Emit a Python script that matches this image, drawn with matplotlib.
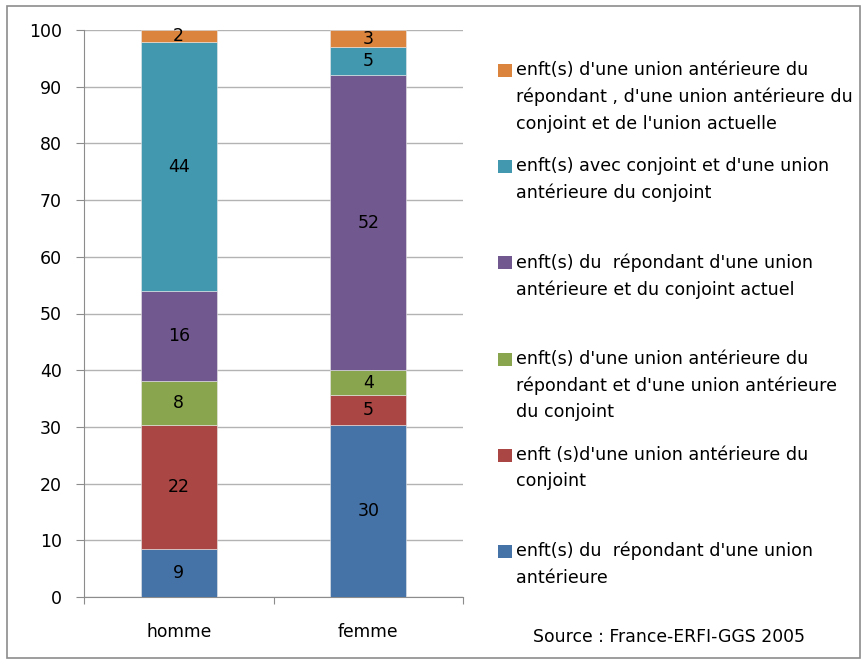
import numpy as np
import matplotlib
matplotlib.use('Agg')
import matplotlib.pyplot as plt
from matplotlib.patches import Rectangle

categories = ['homme', 'femme']
series_names = [
    "enft(s) du  répondant d'une union\nantérieure",
    "enft (s)d'une union antérieure du\nconjoint",
    "enft(s) d'une union antérieure du\nrépondant et d'une union antérieure\ndu conjoint",
    "enft(s) du  répondant d'une union\nantérieure et du conjoint actuel",
    "enft(s) avec conjoint et d'une union\nantérieure du conjoint",
    "enft(s) d'une union antérieure du\nrépondant , d'une union antérieure du\nconjoint et de l'union actuelle",
]
homme = [8.5, 21.8, 7.8, 15.8, 44.0, 2.1]
femme = [30.4, 5.2, 4.4, 52.0, 5.0, 3.0]
labels_homme = ['9', '22', '8', '16', '44', '2']
labels_femme = ['30', '5', '4', '52', '5', '3']
colors = ['#4572A7', '#AA4643', '#89A54E', '#71588F', '#4198AF', '#DB843D']

plt.rcParams['font.family'] = ['DejaVu Sans']

W, H = 867, 664
fig = plt.figure(figsize=(W / 100, H / 100), dpi=100)
ax = fig.add_axes([84 / W, 1 - 597 / H, (463 - 84) / W, (597 - 30) / H])

# outer chart border
fig.patches.append(Rectangle((7 / W, 6 / H), (860 - 7) / W, (658 - 6) / H,
                             transform=fig.transFigure, fill=False,
                             edgecolor='#8c8c8c', linewidth=1.2))

x = np.arange(len(categories))
data = np.array([homme, femme]).T
labs = np.array([labels_homme, labels_femme]).T
bottom = np.zeros(len(categories))
for i in range(len(series_names)):
    ax.bar(x, data[i], 0.4, bottom=bottom, color=colors[i],
           edgecolor='#e8e8e8', linewidth=0.4, zorder=3)
    for j in range(len(categories)):
        ax.text(x[j], bottom[j] + data[i][j] / 2, labs[i][j], ha='center',
                va='center', fontsize=12.5, zorder=4)
    bottom += data[i]

ax.set_xlim(-0.5, 1.5)
ax.set_ylim(0, 100)
ax.set_yticks(np.arange(0, 101, 10))
ax.set_xticks([-0.5, 0.5, 1.5], minor=False)
ax.set_xticklabels([])
ax.set_xticks(x, minor=True)
ax.set_xticklabels(categories, minor=True, fontsize=12.3)
ax.tick_params(axis='x', which='minor', length=0, pad=19)
ax.tick_params(axis='x', which='major', length=5, color='#8c8c8c', direction='out')
ax.tick_params(axis='y', length=6, color='#8c8c8c', labelsize=12.5, pad=10)
ax.yaxis.grid(True, color='#b3b3b3', linewidth=1, zorder=0)
for s in ['top', 'right']:
    ax.spines[s].set_visible(False)
for s in ['left', 'bottom']:
    ax.spines[s].set_color('#8c8c8c')

# legend drawn by hand, top entry first
for k in range(len(series_names)):
    i = len(series_names) - 1 - k
    yc = 70.5 + k * 96.2
    fig.patches.append(Rectangle((498 / W, 1 - (yc + 6.5) / H), 14 / W, 13 / H,
                                 transform=fig.transFigure, facecolor=colors[i],
                                 edgecolor='none'))
    fig.text(516 / W, 1 - (yc - 9.5) / H, series_names[i], ha='left', va='top',
             fontsize=12.6, linespacing=1.6)

fig.text(669 / W, 1 - 637 / H, 'Source : France-ERFI-GGS 2005', ha='center',
         va='center', fontsize=12.4)

fig.savefig('out.png', dpi=100)
